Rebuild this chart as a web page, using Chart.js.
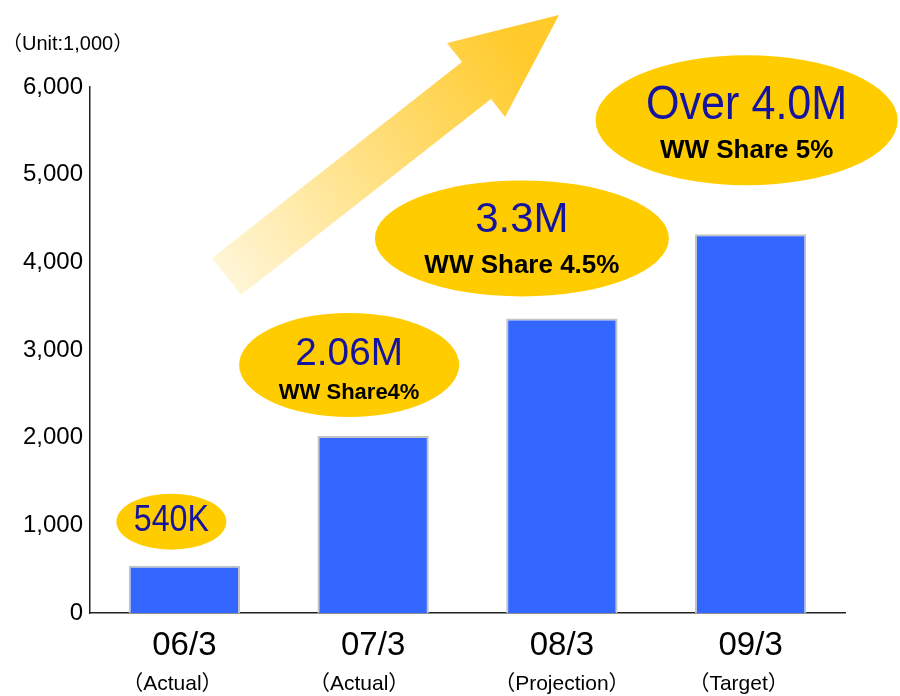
<!DOCTYPE html>
<html>
<head>
<meta charset="utf-8">
<script src="https://cdn.jsdelivr.net/npm/chart.js@4.4.1/dist/chart.umd.min.js"></script>
<style>
  html, body { margin: 0; padding: 0; background: #fff; }
  #wrap { position: relative; width: 900px; height: 696px; }
</style>
</head>
<body>
<div id="wrap"><canvas id="c" width="900" height="696"></canvas></div>
<script>
// ---- data ----
const categories = ["06/3", "07/3", "08/3", "09/3"];
const subLabels = ["（Actual）", "（Actual）", "（Projection）", "（Target）"];
const units = [540, 2020, 3360, 4320];
const yTicks = [0, 1000, 2000, 3000, 4000, 5000, 6000];
const calloutMain = ["540K", "2.06M", "3.3M", "Over 4.0M"];
const calloutShare = ["", "WW Share4%", "WW Share 4.5%", "WW Share 5%"];
const unitLabel = "（Unit:1,000）";

// ---- styling (not data) ----
const FONT = "'Liberation Sans', Arial, 'Noto Sans CJK JP', sans-serif";
const calloutStyle = [
  { dx: -13, dy: -44, rx: 55, ry: 28, mainSize: 37, mainScale: 0.87, mainDy: -1, shareSize: 0, shareDy: 0 },
  { dx: -24, dy: -71, rx: 110, ry: 52, mainSize: 38, mainScale: 1.02, mainDy: -10, shareSize: 22, shareDy: 28 },
  { dx: -40, dy: -80, rx: 147, ry: 58, mainSize: 42, mainScale: 1.0, mainDy: -18, shareSize: 26, shareDy: 27 },
  { dx: -4, dy: -114, rx: 151, ry: 65, mainSize: 49, mainScale: 0.88, mainDy: -15, shareSize: 26, shareDy: 31 }
];
const subDx = [-12, -14, 0, -12];

function scaledText(ctx, text, x, y, sx) {
  ctx.save();
  ctx.translate(x, y);
  ctx.scale(sx, 1);
  ctx.fillText(text, 0, 0);
  ctx.restore();
}

const decoPlugin = {
  id: 'deco',
  beforeDatasetsDraw(chart) {
    const ctx = chart.ctx;
    const pts = [[212,258],[462,62],[447,43],[559,15],[505,117],[491,99],[241,295]];
    ctx.save();
    const g = ctx.createLinearGradient(225, 277, 530, 60);
    g.addColorStop(0, '#FFF6D8');
    g.addColorStop(1, '#FFCA2A');
    ctx.fillStyle = g;
    ctx.beginPath();
    ctx.moveTo(pts[0][0], pts[0][1]);
    for (let i = 1; i < pts.length; i++) ctx.lineTo(pts[i][0], pts[i][1]);
    ctx.closePath();
    ctx.fill();
    ctx.restore();
  },
  afterDatasetsDraw(chart) {
    const ctx = chart.ctx;
    const xs = chart.scales.x, ys = chart.scales.y;
    ctx.save();
    units.forEach((v, i) => {
      const s = calloutStyle[i];
      const cx = xs.getPixelForValue(i) + s.dx;
      const cy = ys.getPixelForValue(v) + s.dy;
      ctx.fillStyle = '#FFCC00';
      ctx.beginPath();
      ctx.ellipse(cx, cy, s.rx, s.ry, 0, 0, Math.PI * 2);
      ctx.fill();
      ctx.textAlign = 'center';
      ctx.textBaseline = 'middle';
      ctx.fillStyle = '#1414A0';
      ctx.font = s.mainSize + 'px ' + FONT;
      scaledText(ctx, calloutMain[i], cx, cy + s.mainDy, s.mainScale);
      if (calloutShare[i]) {
        ctx.fillStyle = '#000';
        ctx.font = 'bold ' + s.shareSize + 'px ' + FONT;
        ctx.fillText(calloutShare[i], cx, cy + s.shareDy);
      }
    });
    ctx.fillStyle = '#000';
    ctx.font = '21px ' + FONT;
    ctx.textAlign = 'center';
    ctx.textBaseline = 'middle';
    subLabels.forEach((t, i) => {
      ctx.fillText(t, xs.getPixelForValue(i) + subDx[i], 684);
    });
    ctx.font = '20px ' + FONT;
    ctx.textAlign = 'left';
    ctx.fillText(unitLabel, 2, 44);
    ctx.restore();
  }
};

new Chart(document.getElementById('c'), {
  type: 'bar',
  data: {
    labels: categories,
    datasets: [{
      data: units,
      backgroundColor: '#3366FF',
      borderColor: '#C4C4C4',
      borderWidth: { top: 2, left: 2, right: 2, bottom: 0 },
      borderSkipped: 'bottom',
      categoryPercentage: 1,
      barPercentage: 0.59
    }]
  },
  options: {
    responsive: false,
    animation: false,
    events: [],
    layout: { padding: { left: 0, right: 55, top: 87, bottom: 0 } },
    plugins: { legend: { display: false }, tooltip: { enabled: false } },
    scales: {
      x: {
        grid: { display: false, drawTicks: false },
        border: { display: true, color: '#222', width: 1.5 },
        ticks: { color: '#000', font: { family: FONT, size: 33 }, padding: 13, maxRotation: 0 },
        afterFit(s) { s.height = 83; }
      },
      y: {
        min: 0, max: 6000,
        afterBuildTicks(s) { s.ticks = yTicks.map(v => ({ value: v })); },
        grid: { display: false, drawTicks: false },
        border: { display: true, color: '#222', width: 1.5 },
        ticks: {
          color: '#000', font: { family: FONT, size: 24 }, padding: 7,
          callback: v => v.toLocaleString('en-US')
        },
        afterFit(s) { s.width = 90; }
      }
    }
  },
  plugins: [decoPlugin]
});
</script>
</body>
</html>
